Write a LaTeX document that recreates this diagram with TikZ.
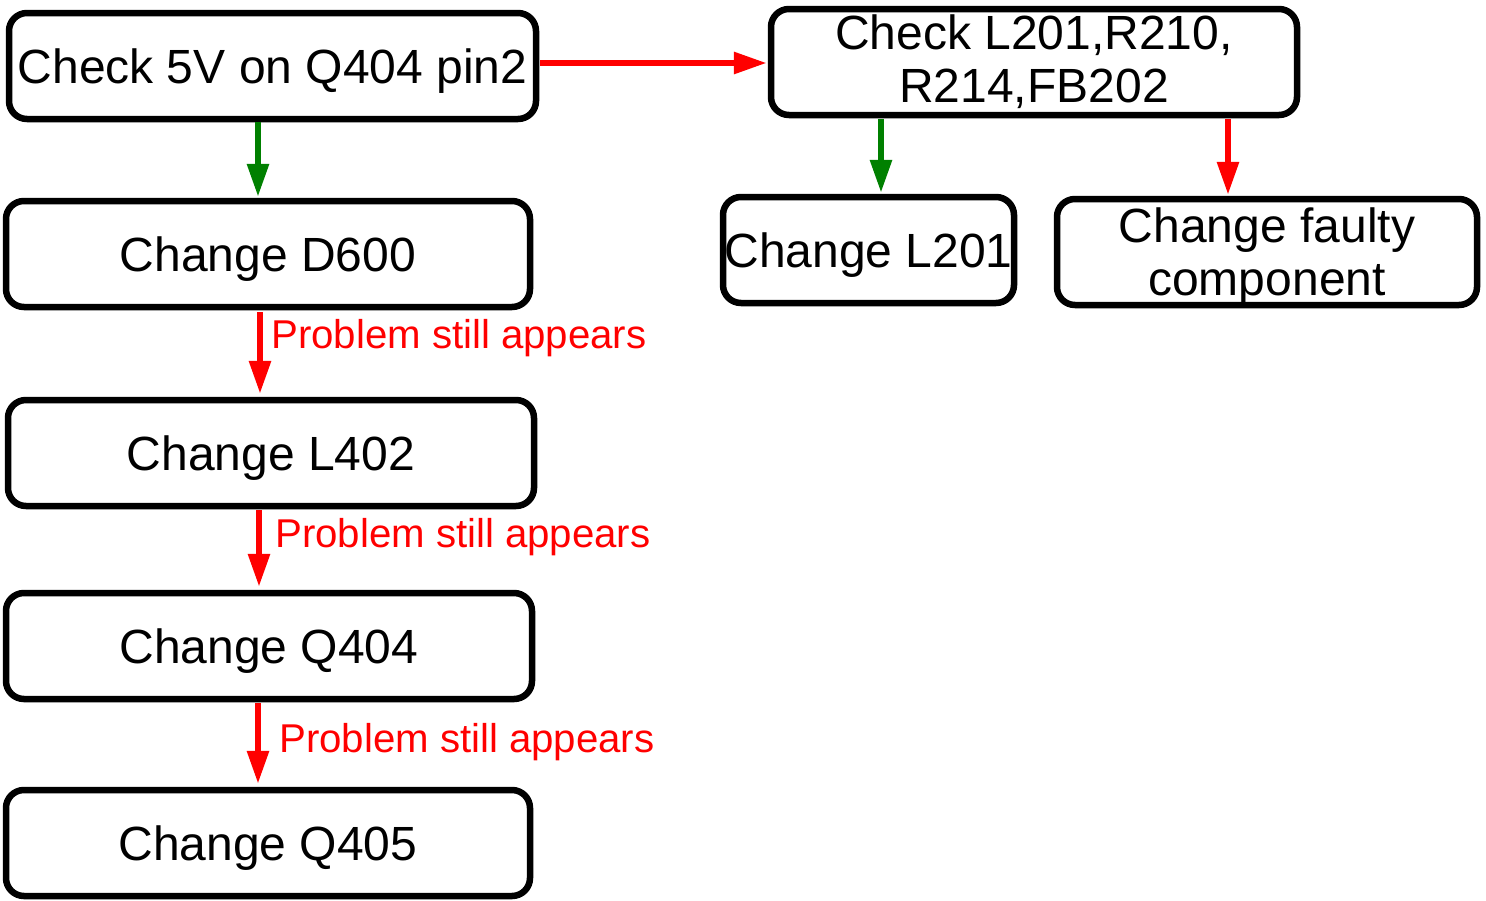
\documentclass[tikz,border=0pt]{standalone}
\usepackage{fontspec}
\setmainfont{Liberation Sans}
\usetikzlibrary{arrows.meta}
\definecolor{arrred}{RGB}{255,0,0}
\definecolor{arrgreen}{RGB}{0,128,0}
\tikzset{
  box/.style={draw=black, line width=6.5pt, rounded corners=18pt, fill=white,
    inner sep=0pt, align=center, font=\fontsize{48}{53}\selectfont,
    minimum height=106pt},
  onebox/.style={box, text height=34pt, text depth=0pt},
  link/.style={line width=6pt, -{Triangle[width=21pt,length=33pt]}},
  redlink/.style={link, draw=arrred, color=arrred},
  greenlink/.style={link, draw=arrgreen, color=arrgreen},
  lbl/.style={text=arrred, font=\fontsize{40.2}{46}\selectfont, inner sep=0pt, anchor=base west}
}
\begin{document}
\begin{tikzpicture}[x=1pt,y=-1pt]
\useasboundingbox[fill=white] (0,0) rectangle (1486,900);
\node[onebox, minimum width=527pt] (b1) at (272.5,66) {Check 5V on Q404 pin2};
\node[onebox, minimum width=524pt] (b2) at (268,254) {Change D600};
\node[onebox, minimum width=526pt] (b3) at (271,453) {Change L402};
\node[onebox, minimum width=526pt] (b4) at (269,646) {Change Q404};
\node[onebox, minimum width=524pt] (b5) at (268,843) {Change Q405};
\node[box, minimum width=526pt] (b6) at (1034,62) {Check L201,R210,\\R214,FB202};
\node[onebox, minimum width=291pt] (b7) at (868.5,250) {Change L201};
\node[box, minimum width=420pt, text depth=0pt] (b8) at (1267,252) {Change faulty\\component};

\draw[greenlink, shorten >=1pt] (b1.south -| 258,0) -- (b2.north -| 258,0);
\draw[redlink, shorten <=1pt, shorten >=1pt] (b1.east |- 0,63) -- (b6.west |- 0,63);
\draw[greenlink, shorten <=1pt, shorten >=1pt] (b6.south -| 881,0) -- (b7.north -| 881,0);
\draw[redlink, shorten <=1pt, shorten >=1pt] (b6.south -| 1228,0) -- (b8.north -| 1228,0);
\draw[redlink, shorten <=2pt, shorten >=3pt] (b2.south -| 260,0) -- (b3.north -| 260,0);
\draw[redlink, shorten <=1pt, shorten >=3pt] (b3.south -| 259,0) -- (b4.north -| 259,0);
\draw[redlink, shorten <=1pt, shorten >=3pt] (b4.south -| 258,0) -- (b5.north -| 258,0);

\node[lbl] (l1) at (271,348) {Problem still appears};
\node[lbl] (l2) at (275,547) {Problem still appears};
\node[lbl] (l3) at (279,752) {Problem still appears};
\end{tikzpicture}
\end{document}
